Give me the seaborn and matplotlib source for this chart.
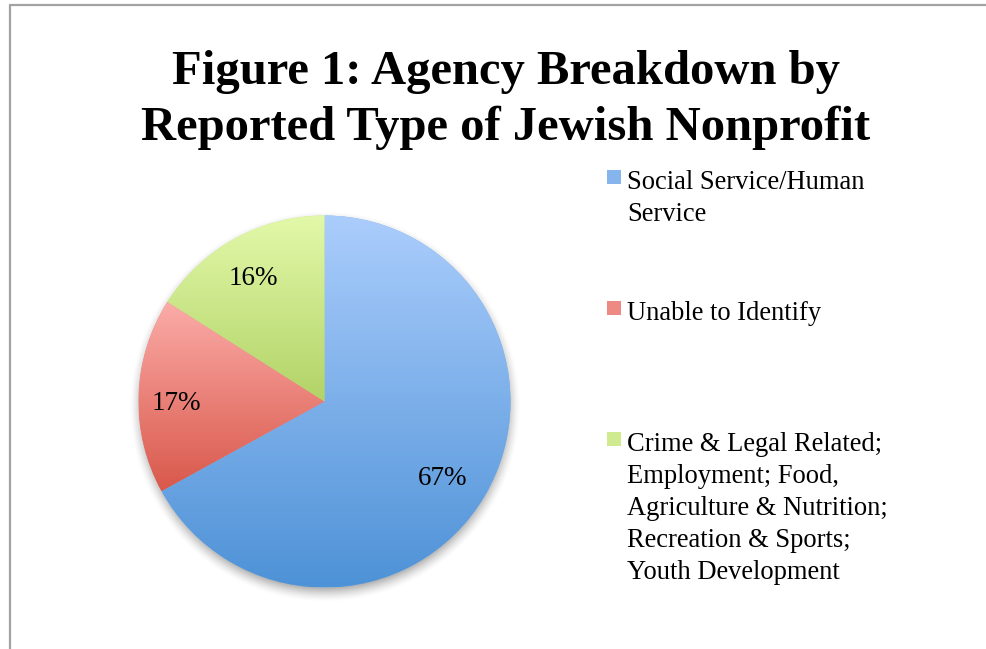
import numpy as np
import matplotlib
matplotlib.use("Agg")
import matplotlib.pyplot as plt
import seaborn as sns
from matplotlib.colors import to_rgb
from matplotlib.lines import Line2D
from matplotlib.patches import Rectangle

# Agency categories and their shares (percent)
categories = [
    "Social Service/Human\nService",
    "Unable to Identify",
    "Crime & Legal Related;\nEmployment; Food,\nAgriculture & Nutrition;\nRecreation & Sports;\nYouth Development",
]
shares = [67, 17, 16]
top_colors = ["#abcdfc", "#fbaca8", "#e3f9aa"]
bottom_colors = ["#4e92d7", "#d9584b", "#b2d367"]
title_lines = ["Figure 1: Agency Breakdown by", "Reported Type of Jewish Nonprofit"]

sns.set_theme(style="white")
plt.rcParams["font.family"] = ["Liberation Serif", "DejaVu Serif"]

W, H = 987, 649
fig = plt.figure(figsize=(W / 100, H / 100), dpi=100)
fig.patch.set_facecolor("white")


def fx(px):
    return px / W


def fy(py):
    return 1 - py / H


# outer frame (top and left edges)
frame = dict(transform=fig.transFigure, color="#a3a3a3", lw=1.6)
fig.add_artist(Line2D([fx(10), 1.0], [fy(5), fy(5)], **frame))
fig.add_artist(Line2D([fx(10), fx(10)], [fy(5), 0.0], **frame))

# title
for i, line in enumerate(title_lines):
    fig.text(fx(506), fy(84 + 56 * i), line, ha="center", va="baseline",
             fontsize=35, fontweight="bold", color="black")

# pie axes: 1 data unit = 186 px, centred at (324.5, 401.5) px
cx, cy, R = 324.5, 401.5, 186.0
half = 1.1
side = 2 * half * R
ax = fig.add_axes([fx(cx - side / 2), fy(cy + side / 2), side / W, side / H])

# soft drop shadow below the pie
g = np.linspace(-half, half, 600)
X, Y = np.meshgrid(g, g)
d = np.hypot(X, Y + 0.03)
alpha = np.clip((1.05 - d) / 0.08, 0, 1) ** 1.5 * 0.6
shadow = np.zeros((600, 600, 4))
shadow[..., :3] = 0.45
shadow[..., 3] = alpha
ax.imshow(shadow, extent=(-half, half, -half, half), origin="lower",
          zorder=0, interpolation="bilinear")

mid_colors = [tuple(0.5 * np.array(to_rgb(t)) + 0.5 * np.array(to_rgb(b)))
              for t, b in zip(top_colors, bottom_colors)]

wedges, texts, autotexts = ax.pie(
    shares, startangle=90, counterclock=False, colors=mid_colors,
    autopct=lambda p: f"{p:.0f}%", pctdistance=0.795, radius=1.0,
    wedgeprops=dict(linewidth=0), textprops=dict(fontsize=19.5, color="black"),
)

# vertical gradient fill for each wedge, spanning the wedge's own height
for w, tc, bc in zip(wedges, top_colors, bottom_colors):
    th = np.radians(np.linspace(w.theta1, w.theta2, 200))
    ys = np.concatenate([[0.0], np.sin(th)])
    xs = np.concatenate([[0.0], np.cos(th)])
    t = np.linspace(0, 1, 256)[:, None]
    grad = (1 - t) * np.array(to_rgb(tc)) + t * np.array(to_rgb(bc))
    img = ax.imshow(grad[:, None, :], extent=(xs.min(), xs.max(), ys.min(), ys.max()),
                    origin="upper", aspect="auto", zorder=2, interpolation="bilinear")
    img.set_clip_path(w)

# percentage labels: the large slice's label sits further inside
label_radius = [0.74, 0.795, 0.795]
for txt, w, r in zip(autotexts, wedges, label_radius):
    ang = np.radians(0.5 * (w.theta1 + w.theta2))
    txt.set_position((r * np.cos(ang), r * np.sin(ang) - 0.035))
    txt.set_zorder(5)

ax.set_xlim(-half, half)
ax.set_ylim(-half, half)
ax.set_aspect("equal")
ax.axis("off")

# legend on the right
leg_x, leg_y0, leg_step = 607, 170, 131
for i, (lab, tc, bc) in enumerate(zip(categories, top_colors, bottom_colors)):
    ytop = leg_y0 + i * leg_step
    col = tuple(0.6 * np.array(to_rgb(tc)) + 0.4 * np.array(to_rgb(bc)))
    fig.add_artist(Rectangle((fx(leg_x), fy(ytop + 14)), 14 / W, 14 / H,
                             transform=fig.transFigure, color=col, lw=0))
    for k, part in enumerate(lab.split("\n")):
        fig.text(fx(627), fy(ytop + 19 + 32 * k), part, ha="left",
                 va="baseline", fontsize=19.1, color="black")

fig.savefig("out.png", dpi=100, facecolor="white")
